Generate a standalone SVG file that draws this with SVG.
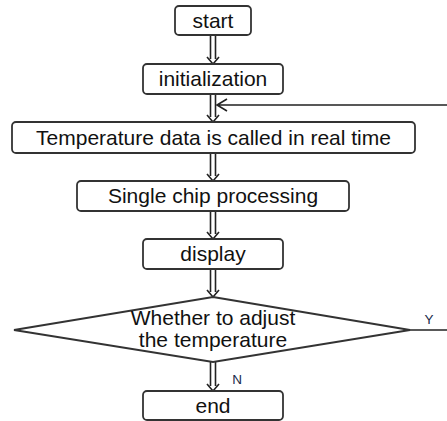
<svg xmlns="http://www.w3.org/2000/svg" width="447" height="421" viewBox="0 0 447 421">
<style>
.box{fill:#fff;stroke:#333;stroke-width:1.8}
.t{font-family:"Liberation Sans",Arial,sans-serif;font-size:21px;fill:#111;text-anchor:middle}
.lbl{font-family:"Liberation Sans",Arial,sans-serif;font-size:13.5px;fill:#1a2a4a;text-anchor:middle}
.c{fill:none;stroke:#222;stroke-width:1.6}
</style>
<rect width="447" height="421" fill="#fff"/>
<g id="connectors">
<path class="c" d="M210.5 35V59M215.5 35V59M207 57L213 64L219 57"/>
<path class="c" d="M210.5 94V117M215.5 94V117M207 115L213 122L219 115"/>
<path class="c" d="M210.5 153V176M215.5 153V176M207 174L213 181L219 174"/>
<path class="c" d="M210.5 211V234M215.5 211V234M207 232L213 239L219 232"/>
<path class="c" d="M210.5 269V292M215.5 269V292M207 290L213 297L219 290"/>
<path class="c" d="M210.5 362V386M215.5 362V386M207 384L213 391L219 384"/>
<path class="c" d="M410 330H447"/>
<path class="c" d="M447 105H217M227 99L217 105L227 111"/>
<text class="lbl" x="429" y="324">Y</text>
<text class="lbl" x="237" y="384">N</text>
</g>
<g id="start"><rect class="box" x="175" y="6" width="76" height="29" rx="4"/><text class="t" x="213" y="28">start</text></g>
<g id="init"><rect class="box" x="143" y="64" width="140" height="30" rx="4"/><text class="t" x="213" y="86">initialization</text></g>
<g id="temp"><rect class="box" x="12" y="122" width="403" height="31" rx="4"/><text class="t" x="213.5" y="145">Temperature data is called in real time</text></g>
<g id="chip"><rect class="box" x="77" y="181" width="272" height="30" rx="4"/><text class="t" x="213" y="203">Single chip processing</text></g>
<g id="display"><rect class="box" x="143" y="239" width="140" height="30" rx="4"/><text class="t" x="213" y="261">display</text></g>
<g id="decision"><polygon class="box" points="213,297 410,330 213,362 14,330"/><text class="t" x="213" y="325">Whether to adjust</text><text class="t" x="213" y="347">the temperature</text></g>
<g id="end"><rect class="box" x="143" y="391" width="140" height="29" rx="4"/><text class="t" x="213" y="413">end</text></g>
</svg>
